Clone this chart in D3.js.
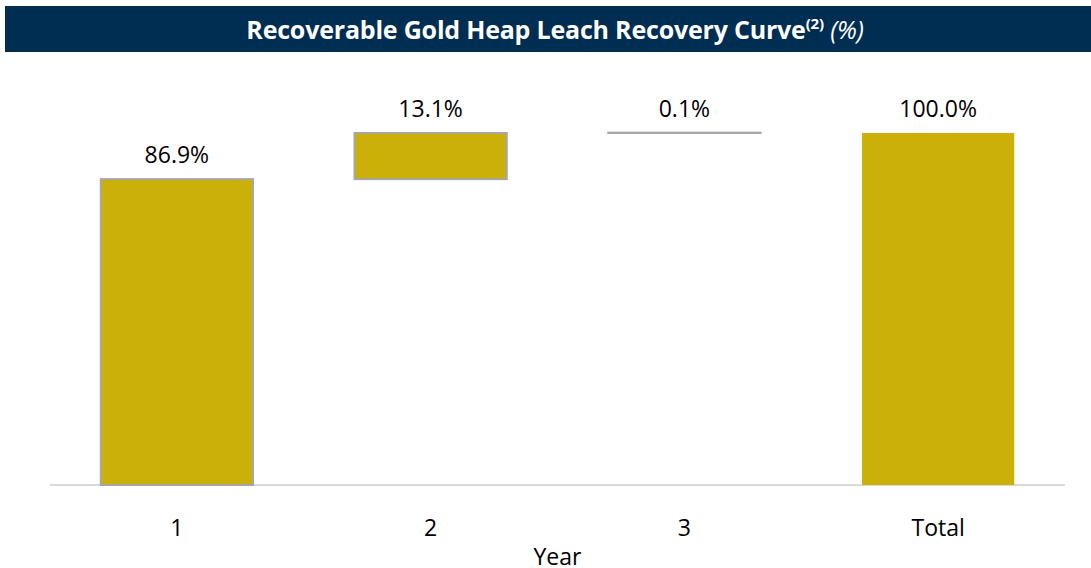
<!DOCTYPE html>
<html>
<head>
<meta charset="utf-8">
<script src="https://cdn.jsdelivr.net/npm/d3@7"></script>
<style>
  body { margin: 0; background: #fff; }
  svg { display: block; font-family: "Open Sans", Lato, sans-serif; }
</style>
</head>
<body>
<div id="chart"></div>
<script>
// Data
const categories = ["1", "2", "3", "Total"];
const steps = [86.9, 13.1, 0.1];
const total = 100.0;
const labels = ["86.9%", "13.1%", "0.1%", "100.0%"];

// Dimensions
const width = 1091;
const height = 568;
const margin = {top: 133, right: 26, bottom: 83, left: 50};
const innerWidth = width - margin.left - margin.right;
const innerHeight = height - margin.top - margin.bottom;

const svg = d3.select("#chart")
  .append("svg")
    .attr("width", width)
    .attr("height", height);

// Header band
svg.append("rect")
  .attr("x", 5).attr("y", 6)
  .attr("width", width - 5).attr("height", 46)
  .attr("fill", "#002D52");

const title = svg.append("text")
  .attr("x", 555).attr("y", 39)
  .attr("text-anchor", "middle")
  .attr("fill", "#fff")
  .attr("font-size", 25)
  .attr("letter-spacing", -0.2);
title.append("tspan").attr("font-weight", "bold").text("Recoverable Gold Heap Leach Recovery Curve");
title.append("tspan").attr("font-weight", "bold").attr("font-size", 15).attr("dy", -10).text("(2)");
title.append("tspan").attr("font-style", "italic").attr("dy", 10).text(" (%)");

// Waterfall rows
let running = 0;
const rows = steps.map((v, i) => {
  const row = {cat: categories[i], y0: running, y1: running + v, label: labels[i], total: false};
  running += v;
  return row;
});
rows.push({cat: categories[3], y0: 0, y1: total, label: labels[3], total: true});

const inner = svg.append("g")
  .attr("transform", `translate(${margin.left}, ${margin.top})`);

const x = d3.scaleBand()
  .domain(categories)
  .range([0, innerWidth])
  .paddingInner(0.4)
  .paddingOuter(0.2);

const y = d3.scaleLinear()
  .domain([0, 100])
  .range([innerHeight, 0]);

// Baseline
inner.append("line")
  .attr("x1", 0).attr("x2", innerWidth)
  .attr("y1", innerHeight).attr("y2", innerHeight)
  .attr("stroke", "#D9D9D9")
  .attr("stroke-width", 2);

// Bars
inner.selectAll(".bar")
  .data(rows)
  .join("rect")
    .attr("class", "bar")
    .attr("x", d => x(d.cat))
    .attr("width", x.bandwidth())
    .attr("y", d => y(Math.max(d.y0, d.y1)))
    .attr("height", d => Math.abs(y(d.y0) - y(d.y1)))
    .attr("fill", "#CCB00A")
    .attr("stroke", d => d.total ? "none" : "#A6A6A6")
    .attr("stroke-width", 2);

// Value labels
inner.selectAll(".val")
  .data(rows)
  .join("text")
    .attr("class", "val")
    .attr("x", d => x(d.cat) + x.bandwidth() / 2)
    .attr("y", d => y(Math.max(d.y0, d.y1)) - 16)
    .attr("text-anchor", "middle")
    .attr("font-size", 23)
    .attr("fill", "#000")
    .text(d => d.label);

// x-axis labels
const xAxis = d3.axisBottom(x).tickSize(0).tickPadding(35);
inner.append("g")
  .attr("transform", `translate(0, ${innerHeight})`)
  .call(xAxis)
  .call(g => g.select(".domain").remove())
  .call(g => g.selectAll("text")
    .attr("font-size", 23)
    .attr("font-family", "'Open Sans', Lato, sans-serif")
    .attr("fill", "#000"));

svg.append("text")
  .attr("x", margin.left + innerWidth / 2)
  .attr("y", 565)
  .attr("text-anchor", "middle")
  .attr("font-size", 23)
  .text("Year");
</script>
</body>
</html>
